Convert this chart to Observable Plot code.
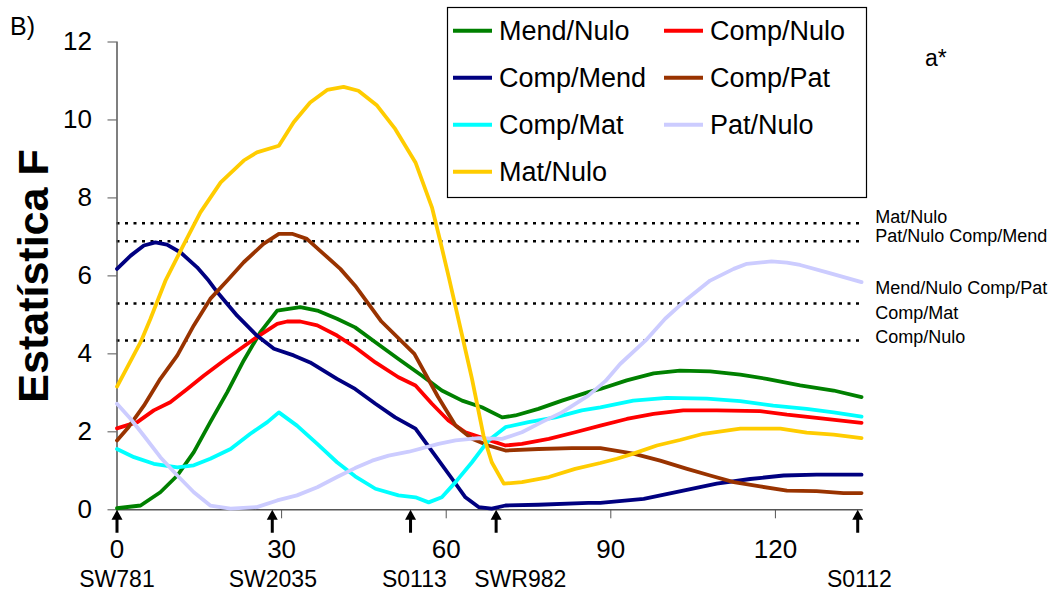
<!DOCTYPE html>
<html>
<head>
<meta charset="utf-8">
<script src="https://cdn.jsdelivr.net/npm/d3@7"></script>
<script src="https://cdn.jsdelivr.net/npm/@observablehq/plot@0.6"></script>
<style>
  html, body { margin: 0; padding: 0; background: #fff; }
  #chart { width: 1064px; height: 594px; }
</style>
</head>
<body>
<div id="chart"></div>
<script>
// F-statistic profiles along the linkage group (position in cM, F value)
const seriesNames = ["Mend/Nulo", "Comp/Nulo", "Comp/Mend", "Comp/Pat", "Comp/Mat", "Pat/Nulo", "Mat/Nulo"];
const seriesColors = ["#008000", "#FF0000", "#000080", "#993300", "#00FFFF", "#CCCCFF", "#FFCC00"];

const mendNulo = [[0,0.04],[4.3,0.11],[7.9,0.45],[11,0.88],[14,1.48],[17,2.25],[20.1,3.02],[23.1,3.83],[26.1,4.55],[29.2,5.11],[33.4,5.2],[36.5,5.11],[40.1,4.9],[43.4,4.68],[47.1,4.3],[51.3,3.87],[55.6,3.44],[59.2,3.06],[62.9,2.8],[66.5,2.63],[70.2,2.37],[72.6,2.42],[76.8,2.59],[81.1,2.8],[85.9,3.02],[88.1,3.1],[92.9,3.32],[97.8,3.5],[102.6,3.57],[108.1,3.55],[113.6,3.47],[118.4,3.36],[124.5,3.19],[130.6,3.06],[135.7,2.89]];
const compNulo = [[0,2.09],[3.7,2.25],[6.7,2.55],[9.7,2.76],[12.8,3.1],[15.8,3.44],[19.5,3.83],[22.5,4.13],[25.5,4.43],[29.2,4.77],[31,4.83],[33.4,4.83],[36.5,4.73],[40.1,4.47],[43.4,4.17],[47.1,3.78],[51.3,3.4],[54.4,3.19],[57.4,2.72],[60.4,2.29],[63.5,1.99],[67.1,1.82],[70.8,1.65],[73.8,1.69],[78.7,1.82],[83.5,1.99],[88.1,2.16],[92.9,2.33],[97.8,2.46],[103.2,2.55],[109.3,2.55],[117.2,2.53],[122.1,2.44],[127.5,2.36],[135.7,2.23]];
const compMend = [[0,6.18],[2.5,6.52],[4.9,6.78],[7,6.86],[9.1,6.8],[11.6,6.6],[14.6,6.22],[16.7,5.88],[18.3,5.58],[21.9,4.98],[25.5,4.47],[28.6,4.13],[32.2,3.96],[35.2,3.78],[40.1,3.36],[43.4,3.1],[47.1,2.72],[50.7,2.37],[54.4,2.08],[58,1.39],[61.1,0.79],[63.5,0.32],[65.9,0.07],[68.3,0.03],[70.8,0.11],[76.8,0.13],[85.9,0.18],[88.1,0.18],[96,0.28],[103.2,0.49],[109.3,0.67],[115.4,0.79],[121.5,0.88],[127.5,0.9],[135.7,0.9]];
const compPat = [[0,1.78],[2.1,2.12],[4.9,2.67],[7.9,3.36],[11,3.96],[14,4.73],[17,5.41],[20.1,5.88],[23.1,6.35],[26.7,6.82],[29.5,7.08],[31.9,7.08],[34.6,6.95],[37.7,6.56],[40.7,6.18],[43.4,5.75],[48.2,4.83],[54.2,4.0],[58.5,2.9],[61.7,2.16],[64.7,1.82],[67.7,1.65],[70.8,1.52],[76.8,1.56],[82.9,1.58],[88.1,1.58],[94.1,1.44],[99,1.26],[103.9,1.05],[108.1,0.88],[112.4,0.71],[117.2,0.6],[122.1,0.49],[127.5,0.48],[132.4,0.43],[135.7,0.43]];
const compMat = [[0,1.56],[3.1,1.35],[6.7,1.18],[11,1.09],[14,1.14],[17,1.31],[20.7,1.56],[24.3,1.95],[27.4,2.25],[29.5,2.5],[32.8,2.16],[36.5,1.69],[40.1,1.22],[43.4,0.86],[47.1,0.54],[51.3,0.37],[54.4,0.32],[56.8,0.19],[59.2,0.32],[61.7,0.71],[64.7,1.22],[67.7,1.78],[70.8,2.12],[75,2.25],[79.9,2.37],[84.7,2.55],[88.1,2.63],[94.1,2.8],[100.2,2.87],[107.5,2.85],[113.6,2.79],[119.6,2.67],[125.7,2.59],[130.6,2.5],[135.7,2.39]];
const patNulo = [[0,2.72],[2.5,2.33],[4.9,1.9],[7.9,1.35],[11,0.88],[14,0.45],[17,0.11],[20.7,0.03],[25.5,0.07],[29.2,0.24],[32.8,0.37],[36.5,0.58],[40.1,0.84],[43.4,1.07],[46.5,1.26],[49.5,1.39],[53.2,1.49],[58.6,1.69],[61.7,1.78],[65.9,1.84],[70.2,1.82],[73.8,1.99],[77.4,2.25],[81.1,2.5],[85.9,2.93],[89,3.3],[91.7,3.74],[96.6,4.38],[99.9,4.9],[103.9,5.41],[108.1,5.88],[112.4,6.18],[114.8,6.31],[119.3,6.37],[122.1,6.34],[124.5,6.28],[129.4,6.09],[135.7,5.84]];
const matNulo = [[0,3.16],[4.3,4.3],[6.1,4.9],[8.9,5.9],[11.9,6.73],[15.2,7.63],[18.9,8.4],[23.1,8.96],[25.5,9.17],[29.5,9.34],[32.2,9.94],[35.2,10.45],[38.3,10.77],[41.3,10.85],[44,10.75],[47.4,10.37],[50.7,9.77],[54.4,8.91],[57.4,7.76],[58.9,6.9],[60.5,5.95],[62.9,4.47],[64.7,3.36],[66.8,1.9],[68.3,1.22],[70.5,0.67],[73.8,0.71],[78.7,0.84],[83.5,1.05],[88.1,1.2],[91.1,1.31],[94.1,1.44],[98.4,1.65],[102.6,1.79],[106.9,1.95],[113.6,2.08],[120.9,2.08],[125.7,1.98],[130.6,1.93],[135.7,1.84]];
const seriesValues = [mendNulo, compNulo, compMend, compPat, compMat, patNulo, matNulo];

// Significance thresholds (dotted lines) and their labels
const thresholds = [7.35, 6.89, 5.29, 4.34];
const thresholdLabels = ["Mat/Nulo", "Pat/Nulo Comp/Mend", "Mend/Nulo Comp/Pat", "Comp/Mat", "Comp/Nulo"];
const thresholdLabelF = [7.35, 6.86, 5.54, 4.9, 4.27];

// Marker loci along the group
const markerNames = ["SW781", "SW2035", "S0113", "SWR982", "S0112"];
const markerPos = [0, 28.3, 53.5, 69.1, 135];
const markerLabelPos = [0, 28.4, 54.2, 73.5, 135.3];

const xTicks = [0, 30, 60, 90, 120];
const yTicks = [0, 2, 4, 6, 8, 10, 12];

// Long table for the line marks
const rows = seriesNames.flatMap((name, i) =>
  seriesValues[i].map(([cM, F]) => ({series: name, cM, F})));
const thresholdRows = thresholdLabels.map((label, i) => ({label, f: thresholdLabelF[i]}));
const markerRows = markerNames.map((name, i) => ({name, pos: markerPos[i], labelPos: markerLabelPos[i]}));

// Filled arrow pointing up, used for the marker positions
const upArrow = {
  draw(ctx, l) {
    const hw = 5.5, hh = 10, sw = 1.5;
    ctx.moveTo(-sw, 0);
    ctx.lineTo(sw, 0);
    ctx.lineTo(sw, -l + hh);
    ctx.lineTo(hw, -l + hh);
    ctx.lineTo(0, -l);
    ctx.lineTo(-hw, -l + hh);
    ctx.lineTo(-sw, -l + hh);
    ctx.closePath();
  }
};

const axisColor = "#555";

const chart = Plot.plot({
  width: 1064,
  height: 594,
  marginLeft: 116.5,
  marginRight: 201.3,
  marginTop: 41.5,
  marginBottom: 84.7,
  x: {domain: [0, 136]},
  y: {domain: [0, 12]},
  color: {domain: seriesNames, range: seriesColors},
  style: {fontFamily: "'Liberation Sans', Arial, sans-serif", background: "#fff", color: "#000"},
  marks: [
    Plot.ruleY(thresholds, {stroke: "#000", strokeWidth: 2.5, strokeDasharray: "3,5.5"}),
    Plot.ruleX([0], {stroke: axisColor, strokeWidth: 1.5}),
    Plot.ruleY([0], {stroke: axisColor, strokeWidth: 1.5}),
    Plot.axisY({ticks: yTicks, tickSize: 9, tickPadding: 16, fontSize: 26, stroke: axisColor, fill: "#000", label: null, tickFormat: d => d}),
    Plot.axisX({ticks: xTicks, tickSize: 9, tickPadding: 21, fontSize: 26, stroke: axisColor, fill: "#000", label: null, tickFormat: d => d}),
    Plot.line(rows, {x: "cM", y: "F", z: "series", stroke: "series", strokeWidth: 3.8, strokeLinejoin: "round"}),
    Plot.vector(markerRows, {x: "pos", y: () => 0, length: 23, rotate: 0, anchor: "end", shape: upArrow, fill: "#000", stroke: "none"}),
    Plot.text(markerRows, {x: "labelPos", y: () => 0, text: "name", dy: 77.4, lineAnchor: "bottom", fontSize: 23, fill: "#000"}),
    Plot.text(thresholdRows, {y: "f", text: "label", frameAnchor: "right", dx: 12, textAnchor: "start", lineAnchor: "bottom", fontSize: 18, fill: "#000"})
  ]
});

document.getElementById("chart").appendChild(chart);

// Annotations: panel letter, trait name, axis title and legend
const svg = d3.select(chart);
const font = "'Liberation Sans', Arial, sans-serif";

svg.append("text").attr("x", 10).attr("y", 35).attr("text-anchor", "start")
  .attr("font-family", font).attr("font-size", 25).text("B)");
svg.append("text").attr("x", 925).attr("y", 66).attr("text-anchor", "start")
  .attr("font-family", font).attr("font-size", 23).text("a*");
svg.append("text")
  .attr("transform", "translate(48,276) rotate(-90)")
  .attr("text-anchor", "middle")
  .attr("font-family", font).attr("font-size", 43).attr("font-weight", "bold")
  .text("Estatística F");

const legend = svg.append("g");
legend.append("rect").attr("x", 447.5).attr("y", 7.5).attr("width", 419).attr("height", 190)
  .attr("fill", "#fff").attr("stroke", "#000").attr("stroke-width", 1.2);
seriesNames.forEach((name, i) => {
  const col = i % 2, row = Math.floor(i / 2);
  const x0 = col === 0 ? 453 : 664;
  const cy = 30.7 + row * 47;
  legend.append("line").attr("x1", x0).attr("x2", x0 + 39).attr("y1", cy).attr("y2", cy)
    .attr("stroke", seriesColors[i]).attr("stroke-width", 4);
  legend.append("text").attr("x", x0 + 46).attr("y", cy + 9.5).attr("text-anchor", "start")
    .attr("font-family", font).attr("font-size", 27).text(name);
});
</script>
</body>
</html>
